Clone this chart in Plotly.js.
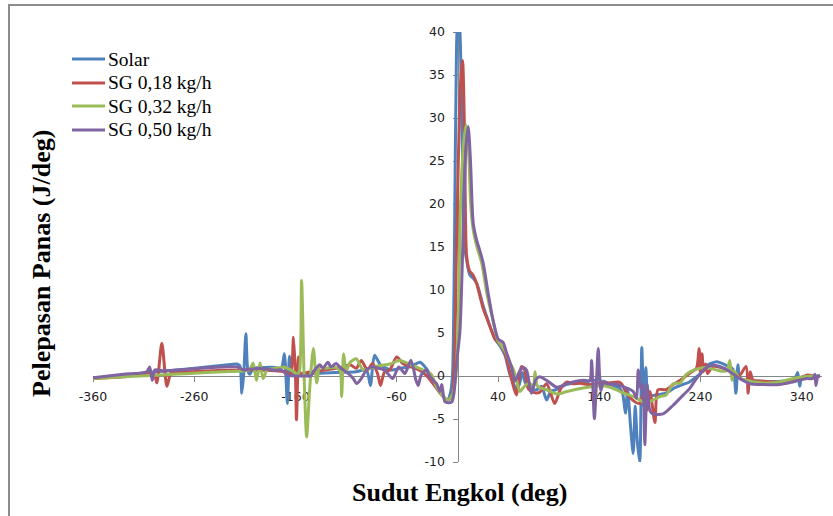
<!DOCTYPE html>
<html>
<head>
<meta charset="utf-8">
<script src="https://cdn.plot.ly/plotly-3.0.1.min.js"></script>
<style>
  html, body { margin: 0; padding: 0; background: #fff; overflow: hidden; }
  #chart { position: absolute; left: 0; top: 0; width: 833px; height: 516px; }
  #frame { position: absolute; left: 8px; top: 4px; width: 900px; height: 600px;
           border-left: 2px solid #8c8c8c; border-top: 2px solid #8c8c8c; pointer-events: none; }
</style>
</head>
<body>
<div id="chart"></div>
<div id="frame"></div>
<script>
// ---- Data (crank angle in deg, heat release in J/deg) ----
const seriesNames = ["Solar", "SG 0,18 kg/h", "SG 0,32 kg/h", "SG 0,50 kg/h"];

const solarX = [-360,-330,-297,-264,-231,-218,-215,-213,-211,-209,-207,-205,-202,-190,-180,-174,-171,-168,-166,-164,-155,-140,-120,-100,-90,-86,-82,-76,-66,-56,-46,-37,-31,-24,-17,-10,-7,-5,-3,-1,1,3,5,7,9,12,16,19,25,30,37,42,47,51,54,58,61,64,67,72,78,83,88,92,97,101,107,114,120,127,133,137,140,142,144,150,156,160,163,166,168,171,173.5,175.5,177.5,180,182,184,186,188,190,196,206,214,220,229,236,240,246,256,266,272,275,277,279,285,300,320,333,336,338,340,350,358];
const solarY = [-0.3,0.1,0.5,0.85,1.25,1.4,1.2,-2.0,0.5,4.9,0.6,0.2,0.9,1.0,1.0,0.9,2.6,-3.2,2.3,0.3,0.3,0.3,0.4,0.5,0.7,-1.1,2.4,1.3,0.7,0.9,1.1,1.6,0.9,-0.5,-2.0,-2.8,-2.0,0,15,38,44,38,25,15,13.5,11.8,11.3,10.8,8.3,6.5,4.3,3.5,2.4,0.5,-0.5,-1.5,-1.0,0.4,-0.8,-1.5,-1.6,-1.2,-2.8,-1.8,-1.6,-1.4,-1.0,-0.85,-0.8,-0.7,-0.5,-0.5,0,-1.2,-0.6,-0.9,-1.2,-1.4,-2.0,-4.3,-1.5,-6.0,-9.0,-3.5,-7.5,-10.0,3.3,-3.5,1.0,-3.5,-2.4,-2.2,-2.0,-1.4,-1.1,-0.7,-0.1,0.3,1.2,1.65,1.2,0.8,-2.0,1.3,-0.3,-0.5,-0.6,-0.6,-0.3,0.4,-1.2,-0.2,-0.1,0.0];

const sg18X = [-360,-330,-300,-297,-292,-287,-283,-280,-264,-231,-200,-180,-170,-165,-162,-160,-159,-157,-155,-145,-135,-125,-115,-106,-100,-95,-89,-84,-79,-76,-72,-67,-60,-54,-46,-38,-31,-24,-17,-10,-6,-3.5,-1,1,3,5,7,9,12,15,19,25,30,37,42,47,53,58,63,66,70,75,81,88,96,101,104,108,114,121,131,141,150,159,162,167,173,180,184,187,190,195,198,206,213,220,229,236,238.6,240,241.5,243,245,247,252,262,272,278,285,287,289,292,300,315,328,337,345,352,358];
const sg18Y = [-0.3,-0.1,0.3,-0.8,3.8,-1.2,0.4,0.5,0.5,0.67,0.7,0.6,0.5,0.1,4.5,0.0,-5.1,2.2,0.3,0.5,0.6,0.8,1.0,1.3,0.9,1.8,0.7,1.45,0.3,-1.1,0.5,0.7,2.2,1.45,1.06,0.7,0.1,-0.9,-2.0,-2.8,-2.5,0,15,26,34,36.7,28,14,12.2,11.8,10.7,8.0,6.4,4.3,3.7,2.6,-0.2,-2.2,1.1,0.8,-1.5,-1.9,-1.9,-0.9,-3.2,-1.7,-1.1,-0.7,-0.9,-0.85,-1.0,-0.8,-0.8,-0.7,-0.9,-2.0,-2.8,-3.2,-2.0,-4.0,-1.8,-5.4,-1.6,-1.6,-1.0,-0.5,0.3,0.9,3.2,0.2,2.6,0.5,1.4,0.3,1.1,0.9,0.5,0.0,1.1,-2.0,0.5,-0.5,-0.6,-0.7,-0.6,-0.3,0.1,0.0,-0.1];

const sg32X = [-360,-330,-297,-264,-231,-210,-205,-202,-198.5,-195,-192,-188,-180,-170,-163,-158,-156,-154,-151.5,-149,-146,-142.4,-139,-136,-130,-121,-116,-114.4,-112.5,-110,-106,-100,-93,-83,-67,-57,-44,-34,-26,-20.6,-14,-9.5,-5,-1.6,1,3,6,8.5,11,13,15.5,19,24,29,35,40,47,52,55,58,61.6,66,71,75,76.5,79,88,98,108,124,141,147,157,164,174,177,187,190,200,206,213,220,226,236,246,259,266,269,271,273,278,285,302,318,335,351,356];
const sg32Y = [-0.3,-0.1,0.1,0.3,0.5,0.6,0.8,1.5,-0.5,1.5,-0.3,0.7,0.9,1.0,0.6,0.2,0.6,11.1,0,-7.1,-1.5,3.2,-0.8,1.1,0.9,1.0,0.6,-2.4,2.6,0.6,1.6,2.0,0.7,1.05,1.4,1.8,1.2,0.7,0.2,-1.3,-2.4,-2.8,-2.2,0,8,20,27,29.2,26,20,17,15.1,13.1,9.6,6.5,4.1,2.9,1.5,0.8,-0.3,-1.8,-1.2,-0.8,-1.3,0.5,-1.2,-1.6,-2.1,-1.8,-1.4,-1.1,-1.2,-1.6,-2.0,-2.4,-2.6,-3.2,-3.0,-2.4,-2.2,-0.9,-0.8,0.2,0.8,1.0,0.6,0.6,1.8,-0.5,0.6,-0.2,-0.5,-0.8,-0.7,-0.2,0.0,0.0];

const sg50X = [-360,-330,-307,-304,-301.5,-299,-290,-264,-248,-231,-218,-211,-205,-192,-180,-174,-168,-160,-150,-145,-141,-136,-133,-128,-125,-120,-115,-108,-103,-99.6,-95,-90,-84,-78,-72,-64,-58,-52,-46,-41,-38.8,-36,-31,-28,-24,-20.6,-17.4,-15.5,-12.4,-8,-5.5,-3.5,-1,2.4,5.7,8.3,10.6,12.9,15.5,18.9,22,25.4,30.3,35.3,40.2,45,48.4,53.4,56.7,61.6,64.9,68.2,73,77,81,88,98,108,114,124,130.7,132.4,135.2,137.3,139,141.5,144,150,157,167,173.5,176.8,178.5,181,183,185,187.3,189.9,193,203,213,223,229,236,243,249,259,269,279,289,302,318,331,345,351,353,354,356,358];
const sg50Y = [-0.2,0.2,0.5,1.06,-0.5,0.7,0.6,0.8,0.95,1.06,1.06,0.7,0.8,0.85,0.67,0.7,0.1,0.0,0.0,0.0,0.7,1.3,0.9,1.6,1.06,1.45,0.9,0.3,-0.3,-0.87,-0.3,0.7,1.06,0.9,0.7,-0.3,1.06,0.3,1.84,-0.5,-1.1,0.1,0.7,0.1,-0.5,-0.9,-1.8,-1.0,-3.0,-3.1,-3.0,-2.0,1.4,5.2,17,26.5,29.0,24.8,17.8,15.8,14.6,13.1,9.6,6.4,4.3,3.9,2.7,1.0,-0.6,0.6,1.0,0.7,-2.0,-0.5,-0.1,-0.5,-1.3,-0.9,-0.7,-0.5,-0.5,1.8,-4.95,-0.5,3.2,-1.7,-0.85,-0.95,-0.95,-1.4,-1.8,-2.6,0.7,-1.5,-1.0,-8.0,-1.0,-4.0,-4.4,-4.4,-3.4,-2.2,-1.5,-0.3,0.7,1.2,1.1,0.5,-0.3,-0.9,-1.0,-1.0,-0.7,-0.3,-0.3,0.2,-1.1,0.0,0.0];

const xTicks = [-360,-260,-160,-60,40,140,240,340];
const yTicks = [-10,-5,0,5,10,15,20,25,30,35,40];
const colors = ["#4F81BD", "#C0504D", "#9BBB59", "#8064A2"];

const xs = [solarX, sg18X, sg32X, sg50X];
const ys = [solarY, sg18Y, sg32Y, sg50Y];

const traces = seriesNames.map((name, i) => ({
  type: "scatter",
  mode: "lines",
  name: name,
  x: xs[i],
  y: ys[i],
  line: { color: colors[i], width: 3, shape: "spline", smoothing: 0.7 },
  hoverinfo: "skip",
  showlegend: false
}));

const serif = "'Liberation Serif', 'Times New Roman', serif";

const axisCommon = {
  showgrid: false,
  zeroline: false,
  showline: true,
  linecolor: "#868686",
  linewidth: 1,
  ticks: "outside",
  ticklen: 5,
  tickcolor: "#868686",
  tickfont: { family: "'DejaVu Sans', sans-serif", size: 12.5, color: "#222" },
  layer: "below traces",
  fixedrange: true
};

// Legend drawn as paper-anchored samples + labels (Excel-like spacing)
const legendRowsY = [0.9372, 0.8814, 0.8279, 0.7721];
const legendShapes = seriesNames.map((n, i) => ({
  type: "line", xref: "paper", yref: "paper",
  x0: -0.0288, x1: 0.0165, y0: legendRowsY[i], y1: legendRowsY[i],
  line: { color: colors[i], width: 3 }
}));
const legendLabels = seriesNames.map((n, i) => ({
  text: n, xref: "paper", yref: "paper",
  x: 0.019, y: legendRowsY[i], xanchor: "left", yanchor: "middle",
  showarrow: false, borderpad: 0,
  font: { family: serif, size: 19.5, color: "#000" }
}));

const layout = {
  width: 833,
  height: 516,
  margin: { l: 93, r: 11, t: 32, b: 54, pad: 0 },
  paper_bgcolor: "rgba(0,0,0,0)",
  plot_bgcolor: "rgba(0,0,0,0)",
  showlegend: false,
  xaxis: Object.assign({}, axisCommon, {
    range: [-360, 360],
    tickvals: xTicks,
    ticktext: xTicks.map(String),
    anchor: "free",
    position: 0.2,
    ticklabelstandoff: 4
  }),
  yaxis: Object.assign({}, axisCommon, {
    range: [-10, 40],
    tickvals: yTicks,
    ticktext: yTicks.map(String),
    anchor: "free",
    position: 0.5,
    ticklabelstandoff: 5
  }),
  shapes: legendShapes,
  annotations: legendLabels.concat([
    {
      text: "<b>Pelepasan Panas (J/deg)</b>",
      xref: "paper", yref: "paper",
      x: -0.07, y: 0.463, xanchor: "center", yanchor: "middle",
      textangle: -90, showarrow: false,
      font: { family: serif, size: 26, color: "#000" }
    },
    {
      text: "<b>Sudut Engkol (deg)</b>",
      xref: "paper", yref: "paper",
      x: 0.503, y: -0.07, xanchor: "center", yanchor: "middle",
      showarrow: false,
      font: { family: serif, size: 26, color: "#000" }
    }
  ])
};

Plotly.newPlot("chart", traces, layout, { staticPlot: true, displayModeBar: false });
</script>
</body>
</html>
